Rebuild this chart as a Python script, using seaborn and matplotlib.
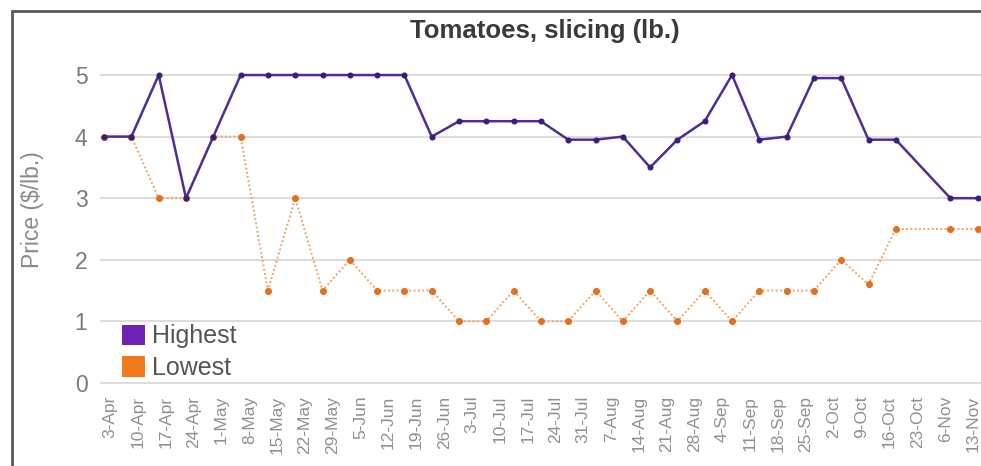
import matplotlib
matplotlib.use("Agg")
import matplotlib.pyplot as plt
from matplotlib.lines import Line2D
from matplotlib.patches import Patch
import numpy as np
import pandas as pd
import seaborn as sns

# Weekly market dates (no report on 30-Oct)
dates = ["3-Apr", "10-Apr", "17-Apr", "24-Apr", "1-May", "8-May", "15-May",
         "22-May", "29-May", "5-Jun", "12-Jun", "19-Jun", "26-Jun", "3-Jul",
         "10-Jul", "17-Jul", "24-Jul", "31-Jul", "7-Aug", "14-Aug", "21-Aug",
         "28-Aug", "4-Sep", "11-Sep", "18-Sep", "25-Sep", "2-Oct", "9-Oct",
         "16-Oct", "23-Oct", "6-Nov", "13-Nov"]

# Price per lb.
highest = [4, 4, 5, 3, 4, 5, 5, 5, 5, 5, 5, 5, 4, 4.25, 4.25, 4.25, 4.25,
           3.95, 3.95, 4, 3.5, 3.95, 4.25, 5, 3.95, 4, 4.95, 4.95, 3.95, 3.95,
           3, 3]
lowest = [4, 4, 3, 3, 4, 4, 1.5, 3, 1.5, 2, 1.5, 1.5, 1.5, 1, 1, 1.5, 1, 1,
          1.5, 1, 1.5, 1, 1.5, 1, 1.5, 1.5, 1.5, 2, 1.6, 2.5, 2.5, 2.5]

series_names = ["Highest", "Lowest"]
y_ticks = [0, 1, 2, 3, 4, 5]

# x position in weeks since the first report
parsed = pd.to_datetime([d + "-2018" for d in dates], format="%d-%b-%Y")
weeks = ((parsed - parsed[0]).days / 7).to_numpy()

df = pd.DataFrame({
    "week": np.concatenate([weeks, weeks]),
    "price": highest + lowest,
    "series": [series_names[0]] * len(weeks) + [series_names[1]] * len(weeks),
})

sns.set_style("white")
plt.rcParams["font.family"] = ["Liberation Sans", "DejaVu Sans"]

purple_line = "#4f2c96"
purple_mark = "#3a1d78"
purple_key = "#6b22b5"
orange_line = "#f2a366"
orange_mark = "#e2701f"
orange_key = "#f07a1e"

fig = plt.figure(figsize=(9.81, 4.66), dpi=100)
ax = fig.add_axes([100 / 981, 1 - 386 / 466, 881 / 981, 335.6 / 466])

sns.lineplot(data=df[df.series == "Lowest"], x="week", y="price", ax=ax,
             color=orange_line, linewidth=1.4, linestyle=(0, (1, 1.2)),
             marker="o", markersize=4.3, markerfacecolor=orange_mark,
             markeredgecolor=orange_mark, zorder=3, legend=False)
sns.lineplot(data=df[df.series == "Highest"], x="week", y="price", ax=ax,
             color=purple_line, linewidth=1.8, marker="o", markersize=3.6,
             markerfacecolor=purple_mark, markeredgecolor=purple_mark,
             zorder=4, legend=False)

ax.set_xlim(-0.15, 32.12)
ax.set_ylim(-0.05, 5.4)
ax.set_yticks(y_ticks)
ax.set_yticklabels([str(t) for t in y_ticks])
ax.yaxis.grid(True, color="#dcdcdc", linewidth=1.5)
ax.xaxis.grid(False)
ax.set_axisbelow(True)
for s in ax.spines.values():
    s.set_visible(False)

# Labels spread evenly across the plotted span
ax.set_xticks(np.linspace(0.22, 31.83, len(dates)))
ax.set_xticklabels(dates, rotation=90, fontsize=12.5, color="#8f8f8f")
ax.tick_params(axis="x", length=0, pad=7)
ax.tick_params(axis="y", length=0, pad=9, labelsize=16.5, labelcolor="#7a7a7a")

ax.set_xlabel("")
ax.set_ylabel("Price ($/lb.)", fontsize=16.5, color="#8a8a8a")
ax.yaxis.set_label_coords(-0.063, 0.525)

fig.text(545 / 981, 1 - 31 / 466, "Tomatoes, slicing (lb.)", ha="center",
         va="center", fontsize=18.5, fontweight="bold", color="#3a3a3a")

handles = [Patch(facecolor=purple_key, edgecolor="none"),
           Patch(facecolor=orange_key, edgecolor="none")]
fig.legend(handles, series_names, loc="lower left",
           bbox_to_anchor=(122 / 981, 1 - 380 / 466), frameon=False,
           fontsize=18, labelcolor="#555555", handlelength=0.9,
           handleheight=0.9, handletextpad=0.3, labelspacing=0.3,
           borderpad=0, borderaxespad=0)

# Outer frame (left and top edges)
fig.add_artist(Line2D([12 / 981, 12 / 981], [-0.05, 1 - 11 / 466],
                      transform=fig.transFigure, color="#5a5a5a", linewidth=2))
fig.add_artist(Line2D([12 / 981, 1.05], [1 - 11 / 466, 1 - 11 / 466],
                      transform=fig.transFigure, color="#5a5a5a", linewidth=2))

fig.savefig("out.png", dpi=100)
